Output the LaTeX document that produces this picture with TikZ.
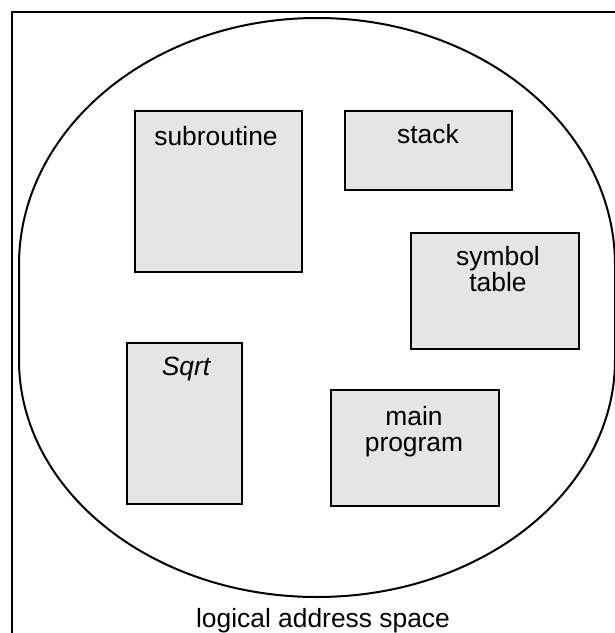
\documentclass[tikz,border=0pt]{standalone}
\usepackage{fontspec}
\setmainfont{Liberation Sans}
\usetikzlibrary{positioning}
\definecolor{segfill}{gray}{0.9}

\tikzset{
  segbox/.style={draw, line width=1.2pt, fill=segfill, anchor=north west, inner sep=0pt},
  segtext/.style={anchor=base, inner sep=0pt, align=center, font=\fontsize{13.2}{13}\selectfont}
}

\begin{document}
\begin{tikzpicture}[x=0.5pt,y=-0.5pt]
		\useasboundingbox (0,0) rectangle (615,633);
		\clip (0,0) rectangle (615,633);
		
		% frame and address space
		\draw[line width=1.3pt] (12,640) -- (12,12) -- (620,12);
		\draw[line width=1pt] (19,360) -- (19,265)
			arc[start angle=180, end angle=360, x radius=298, y radius=247]
			-- (615,360)
			arc[start angle=0, end angle=180, x radius=298, y radius=237] -- cycle;
		
		% segments
		\node[segbox, minimum width=83.5pt, minimum height=80.5pt] (sub) at (134,110) {};
		\node[segbox, minimum width=83.5pt, minimum height=39.5pt] (stk) at (344,110) {};
		\node[segbox, minimum width=84pt, minimum height=58pt] (sym) at (410,232) {};
		\node[segbox, minimum width=57.5pt, minimum height=80.5pt] (sqr) at (126,342) {};
		\node[segbox, minimum width=84pt, minimum height=58pt] (mainp) at (330,389) {};
		
		% labels (base = last line)
		\node[segtext] (subtxt) at (216,145) {subroutine};
		\node[segtext] (stktxt) at (428,143) {stack};
		\node[segtext] (symtxt) at (498,291) {symbol\\table};
		\node[segtext] (sqrtxt) at (186,375) {\itshape Sqrt};
		\node[segtext] (maintxt) at (414,451) {main\\program};
		
		\node[segtext] (lastxt) at (323,627) {logical address space};
\end{tikzpicture}
\end{document}
